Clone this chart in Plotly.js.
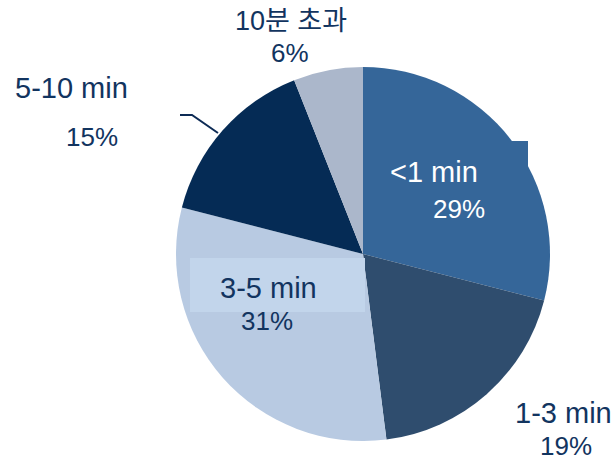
<!DOCTYPE html>
<html>
<head>
<meta charset="utf-8">
<script src="https://cdn.plot.ly/plotly-3.0.1.min.js"></script>
<style>
  html, body { margin: 0; padding: 0; background: #ffffff; }
  #chart { width: 616px; height: 458px; }
</style>
</head>
<body>
<div id="chart"></div>
<script>
// Share of sessions by duration
const categories = ['<1 min', '1-3 min', '3-5 min', '5-10 min', '10분 초과'];
const shares = [29, 19, 31, 15, 6];
const sliceColors = ['#356699', '#2f4d6e', '#b8cae2', '#052b55', '#abb7cb'];

const W = 616, H = 458;
const margin = { l: 176, r: 66, t: 67, b: 17 };
const plotW = W - margin.l - margin.r;
const plotH = H - margin.t - margin.b;

// pixel -> paper coordinates
const px = x => (x - margin.l) / plotW;
const py = y => (H - margin.b - y) / plotH;

const FONT = 'Liberation Sans, Arial, Noto Sans CJK KR, sans-serif';
const dark = '#12345f';

// label placement: name centre, percentage centre, colour, font sizes
const labelSpots = [
  { name: [434, 172], pct: [459, 209], color: '#ffffff', nameSize: 29 },
  { name: [563, 413], pct: [566, 446], color: dark, nameSize: 29 },
  { name: [268, 288], pct: [267, 321], color: dark, nameSize: 29 },
  { name: [71, 88], pct: [92, 137], color: dark, nameSize: 29 },
  { name: [291, 21], pct: [290, 53], color: dark, nameSize: 27 }
];

// label backing boxes: [x0, y0, x1, y1] in pixels, fill
const labelBoxes = [
  { rect: [380, 141, 528, 200], fill: '#356699' },
  { rect: [190, 258, 365, 312], fill: '#c2d5eb' }
];

const annotations = [];
categories.forEach((cat, i) => {
  const s = labelSpots[i];
  annotations.push({
    xref: 'paper', yref: 'paper', x: px(s.pct[0]), y: py(s.pct[1]),
    xanchor: 'center', yanchor: 'middle', showarrow: false,
    text: shares[i] + '%', font: { family: FONT, size: 26, color: s.color }
  });
});
categories.forEach((cat, i) => {
  const s = labelSpots[i];
  annotations.push({
    xref: 'paper', yref: 'paper', x: px(s.name[0]), y: py(s.name[1]),
    xanchor: 'center', yanchor: 'middle', showarrow: false,
    text: cat, font: { family: FONT, size: s.nameSize, color: s.color }
  });
});

const shapes = labelBoxes.map(b => ({
  type: 'rect', xref: 'paper', yref: 'paper', layer: 'above',
  x0: px(b.rect[0]), y0: py(b.rect[3]), x1: px(b.rect[2]), y1: py(b.rect[1]),
  fillcolor: b.fill, line: { width: 0 }
}));

// leader line for the 5-10 min label
shapes.push({
  type: 'path', xref: 'paper', yref: 'paper',
  path: `M ${px(180)} ${py(115)} L ${px(192)} ${py(115)} L ${px(218)} ${py(133)}`,
  line: { color: '#0d2b55', width: 2 }
});

const trace = {
  type: 'pie',
  values: shares,
  labels: categories,
  marker: { colors: sliceColors, line: { width: 0 } },
  sort: false,
  direction: 'clockwise',
  rotation: 0,
  textinfo: 'none',
  hoverinfo: 'label+percent'
};

const layout = {
  width: W, height: H,
  margin: margin,
  showlegend: false,
  paper_bgcolor: '#ffffff',
  annotations: annotations,
  shapes: shapes
};

Plotly.newPlot('chart', [trace], layout, { displayModeBar: false, staticPlot: true });
</script>
</body>
</html>
